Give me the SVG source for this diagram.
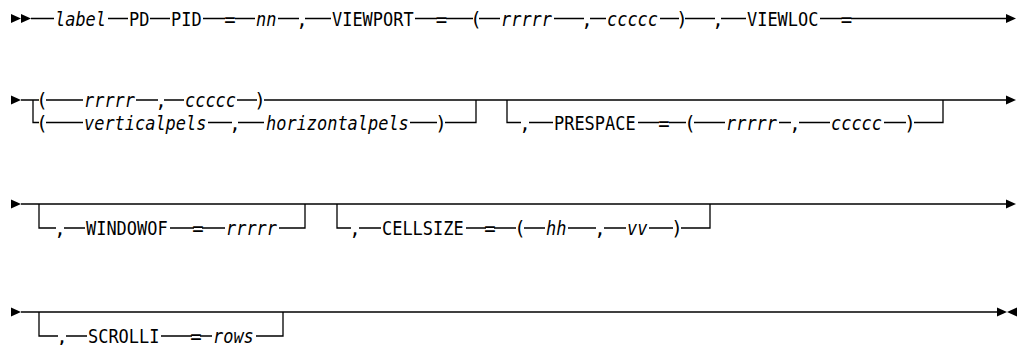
<svg xmlns="http://www.w3.org/2000/svg" width="1021" height="345" viewBox="0 0 1021 345">
<style>
.bg{fill:#fff}
.ln{stroke:#000;stroke-width:1.3;fill:none}
.ah{fill:#000}
.t{font-family:"DejaVu Sans Mono","Liberation Mono",monospace;font-size:19px;fill:#000}
.i{font-style:italic}
.m{text-anchor:middle}
</style>
<defs>
<polygon id="tri" points="0,-4.5 10,0 0,4.5"/>
<polygon id="tril" points="10,-4.5 0,0 10,4.5"/>
</defs>
<rect class="bg" x="0" y="0" width="1021" height="345"/>
<g id="connectors">
<path class="ln" d="M31 18.5H54 M108 18.5H128 M150 18.5H170 M203 18.5H225 M235 18.5H255 M278 18.5H299 M305 18.5H331 M415 18.5H437 M446 18.5H473 M479 18.5H500 M554 18.5H584 M590 18.5H606 M660 18.5H679 M685 18.5H715 M721 18.5H746 M820 18.5H842 M851 18.5H1006"/>
<path class="ln" d="M21 100H39 M46 100H83 M136 100H158 M164 100H184 M237 100H257 M264 100H1006"/>
<path class="ln" d="M33 100V122.5H39 M46 122.5H83 M208 122.5H232 M238 122.5H264 M410 122.5H437 M445 122.5H476V100"/>
<path class="ln" d="M507 100V122.5H521 M529 122.5H553 M638 122.5H659 M669 122.5H686 M694 122.5H725 M779 122.5H791 M799 122.5H830 M884 122.5H906 M914 122.5H943V100"/>
<path class="ln" d="M21 204H1006"/>
<path class="ln" d="M39 204V228H56 M64 228H85 M170 228H194 M202 228H225 M279 228H305V204"/>
<path class="ln" d="M337 204V228H351 M359 228H381 M466 228H486 M494 228H516 M524 228H545 M568 228H596 M604 228H626 M649 228H673 M681 228H710V204"/>
<path class="ln" d="M21 312H998"/>
<path class="ln" d="M39 312V336H58 M66 336H87 M161 336H192 M200 336H212 M256 336H283V312"/>
<use href="#tri" class="ah" x="11" y="18.5"/>
<use href="#tri" class="ah" x="21" y="18.5"/>
<use href="#tri" class="ah" x="1006" y="18.5"/>
<use href="#tri" class="ah" x="11" y="100"/>
<use href="#tri" class="ah" x="1006" y="100"/>
<use href="#tri" class="ah" x="11" y="204"/>
<use href="#tri" class="ah" x="1006" y="204"/>
<use href="#tri" class="ah" x="11" y="312"/>
<use href="#tri" class="ah" x="997" y="312"/>
<use href="#tril" class="ah" x="1007" y="312"/>
</g>
<g id="row1">
<g id="n-label"><text class="t i" x="55" y="25.5" textLength="51" lengthAdjust="spacingAndGlyphs">label</text></g>
<g id="n-pd"><text class="t" x="129" y="25.5" textLength="20.4" lengthAdjust="spacingAndGlyphs">PD</text></g>
<g id="n-pid"><text class="t" x="171" y="25.5" textLength="30.6" lengthAdjust="spacingAndGlyphs">PID</text></g>
<g id="n-eq1"><text class="t m" x="230" y="25.5">=</text></g>
<g id="n-nn"><text class="t i" x="256" y="25.5" textLength="20.4" lengthAdjust="spacingAndGlyphs">nn</text></g>
<g id="n-c1"><text class="t m" x="302" y="25.5">,</text></g>
<g id="n-viewport"><text class="t" x="332" y="25.5" textLength="81.6" lengthAdjust="spacingAndGlyphs">VIEWPORT</text></g>
<g id="n-eq2"><text class="t m" x="441.5" y="25.5">=</text></g>
<g id="n-lp1"><text class="t m" x="476" y="25.5">(</text></g>
<g id="n-r1"><text class="t i" x="501" y="25.5" textLength="51" lengthAdjust="spacingAndGlyphs">rrrrr</text></g>
<g id="n-c2"><text class="t m" x="587" y="25.5">,</text></g>
<g id="n-cc1"><text class="t i" x="607" y="25.5" textLength="51" lengthAdjust="spacingAndGlyphs">ccccc</text></g>
<g id="n-rp1"><text class="t m" x="682" y="25.5">)</text></g>
<g id="n-c3"><text class="t m" x="718" y="25.5">,</text></g>
<g id="n-viewloc"><text class="t" x="747" y="25.5" textLength="71.4" lengthAdjust="spacingAndGlyphs">VIEWLOC</text></g>
<g id="n-eq3"><text class="t m" x="846.5" y="25.5">=</text></g>
</g>
<g id="row2">
<g id="n-lp2"><text class="t m" x="42" y="107">(</text></g>
<g id="n-r2"><text class="t i" x="84" y="107" textLength="51" lengthAdjust="spacingAndGlyphs">rrrrr</text></g>
<g id="n-c4"><text class="t m" x="161" y="107">,</text></g>
<g id="n-cc2"><text class="t i" x="185" y="107" textLength="51" lengthAdjust="spacingAndGlyphs">ccccc</text></g>
<g id="n-rp2"><text class="t m" x="260" y="107">)</text></g>
<g id="n-lp3"><text class="t m" x="42" y="129.5">(</text></g>
<g id="n-vp"><text class="t i" x="84" y="129.5" textLength="122.4" lengthAdjust="spacingAndGlyphs">verticalpels</text></g>
<g id="n-c5"><text class="t m" x="235" y="129.5">,</text></g>
<g id="n-hp"><text class="t i" x="266" y="129.5" textLength="142.8" lengthAdjust="spacingAndGlyphs">horizontalpels</text></g>
<g id="n-rp3"><text class="t m" x="441" y="129.5">)</text></g>
<g id="n-c6"><text class="t m" x="525" y="129.5">,</text></g>
<g id="n-prespace"><text class="t" x="554" y="129.5" textLength="81.6" lengthAdjust="spacingAndGlyphs">PRESPACE</text></g>
<g id="n-eq4"><text class="t m" x="664" y="129.5">=</text></g>
<g id="n-lp4"><text class="t m" x="690" y="129.5">(</text></g>
<g id="n-r3"><text class="t i" x="726" y="129.5" textLength="51" lengthAdjust="spacingAndGlyphs">rrrrr</text></g>
<g id="n-c7"><text class="t m" x="795" y="129.5">,</text></g>
<g id="n-cc3"><text class="t i" x="831" y="129.5" textLength="51" lengthAdjust="spacingAndGlyphs">ccccc</text></g>
<g id="n-rp4"><text class="t m" x="910" y="129.5">)</text></g>
</g>
<g id="row3">
<g id="n-c8"><text class="t m" x="60" y="235">,</text></g>
<g id="n-windowof"><text class="t" x="86" y="235" textLength="81.6" lengthAdjust="spacingAndGlyphs">WINDOWOF</text></g>
<g id="n-eq5"><text class="t m" x="198" y="235">=</text></g>
<g id="n-r4"><text class="t i" x="226" y="235" textLength="51" lengthAdjust="spacingAndGlyphs">rrrrr</text></g>
<g id="n-c9"><text class="t m" x="355" y="235">,</text></g>
<g id="n-cellsize"><text class="t" x="382" y="235" textLength="81.6" lengthAdjust="spacingAndGlyphs">CELLSIZE</text></g>
<g id="n-eq6"><text class="t m" x="490" y="235">=</text></g>
<g id="n-lp5"><text class="t m" x="520" y="235">(</text></g>
<g id="n-hh"><text class="t i" x="546" y="235" textLength="20.4" lengthAdjust="spacingAndGlyphs">hh</text></g>
<g id="n-c10"><text class="t m" x="600" y="235">,</text></g>
<g id="n-vv"><text class="t i" x="627" y="235" textLength="20.4" lengthAdjust="spacingAndGlyphs">vv</text></g>
<g id="n-rp5"><text class="t m" x="677" y="235">)</text></g>
</g>
<g id="row4">
<g id="n-c11"><text class="t m" x="62" y="343">,</text></g>
<g id="n-scrolli"><text class="t" x="88" y="343" textLength="71.4" lengthAdjust="spacingAndGlyphs">SCROLLI</text></g>
<g id="n-eq7"><text class="t m" x="196" y="343">=</text></g>
<g id="n-rows"><text class="t i" x="213" y="343" textLength="40.8" lengthAdjust="spacingAndGlyphs">rows</text></g>
</g>
</svg>
